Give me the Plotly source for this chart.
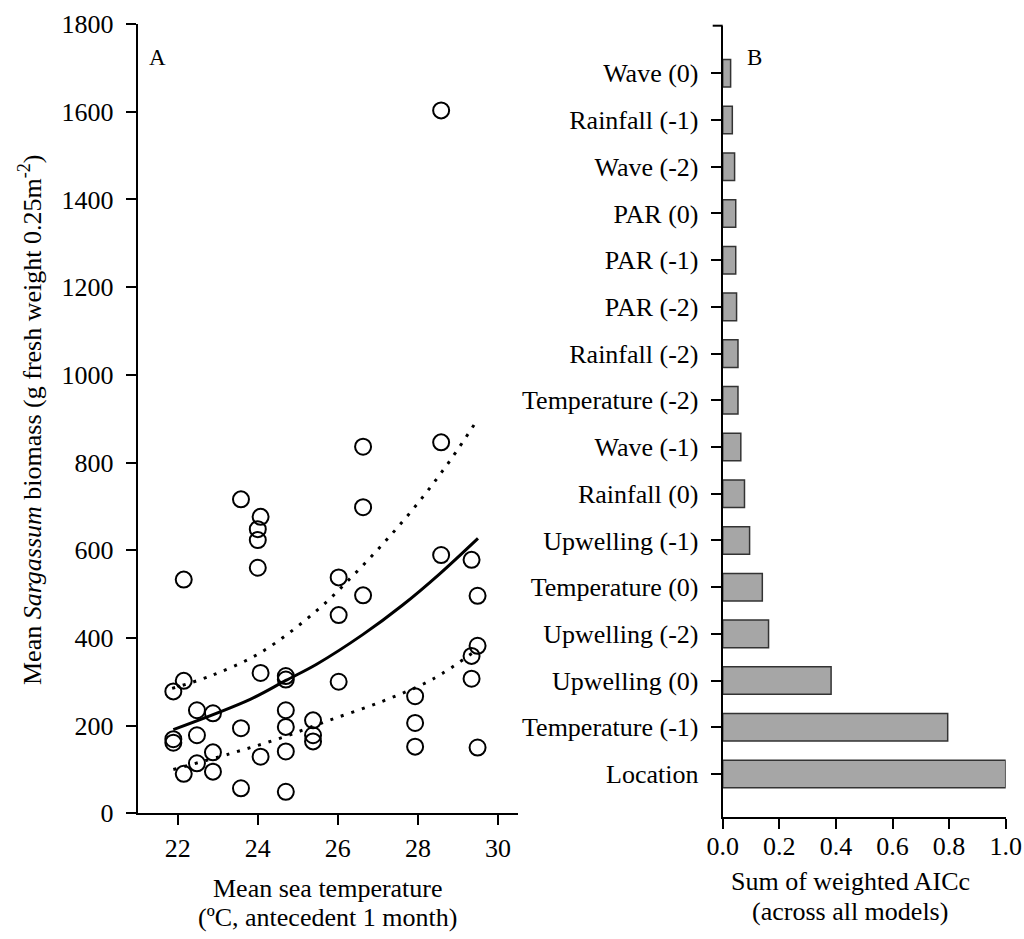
import plotly.graph_objects as go

# ---------------- Panel A data ----------------
temp = [26.63, 28.58, 23.58, 24.07, 24.00, 24.00, 24.00, 26.63, 22.15, 28.58,
        29.34, 26.02, 26.63, 29.49, 26.02, 29.49, 29.34, 29.34, 26.02, 24.07,
        24.70, 24.70, 22.15, 21.89, 22.48, 22.88, 24.70, 25.38, 23.58, 24.70,
        27.93, 27.93, 25.38, 25.38, 21.89, 21.89, 22.48, 27.93, 29.49, 22.88,
        24.07, 24.70, 22.48, 22.15, 22.88, 23.58, 24.70, 28.58]
biomass = [836, 846, 716, 676, 648, 623, 560, 698, 533, 589,
           578, 538, 497, 496, 452, 382, 359, 307, 300, 320,
           313, 305, 302, 278, 235, 228, 235, 212, 194, 197,
           267, 206, 178, 164, 169, 161, 178, 152, 150, 139,
           129, 141, 114, 90, 95, 57, 49, 1603]

fit_x = [21.89, 23.81, 24.70, 25.47, 26.63, 27.62, 28.53, 29.50]
fit_y = [191, 260, 303, 340, 408, 475, 545, 627]

upper_x = [21.86, 22.81, 24.06, 25.47, 26.42, 27.29, 28.12, 28.83, 29.49]
upper_y = [285, 313, 366, 462, 546, 631, 721, 808, 898]

lower_x = [21.89, 23.31, 24.55, 25.72, 27.13, 28.37, 29.49]
lower_y = [100, 136, 171, 210, 256, 306, 374]

# ---------------- Panel B data ----------------
predictors = ["Location", "Temperature (-1)", "Upwelling (0)", "Upwelling (-2)",
              "Temperature (0)", "Upwelling (-1)", "Rainfall (0)", "Wave (-1)",
              "Temperature (-2)", "Rainfall (-2)", "PAR (-2)", "PAR (-1)",
              "PAR (0)", "Wave (-2)", "Rainfall (-1)", "Wave (0)"]
weights = [1.0, 0.795, 0.383, 0.162, 0.140, 0.095, 0.077, 0.064,
           0.054, 0.054, 0.049, 0.046, 0.046, 0.042, 0.034, 0.028]

x_ticks_a = [22, 24, 26, 28, 30]
x_ticks_b = [0.0, 0.2, 0.4, 0.6, 0.8, 1.0]

W, H = 1024, 939
FONT = "Liberation Serif, Times New Roman, serif"

def px_x(p):
    return p / W

def px_y(p):
    return 1 - p / H

fig = go.Figure()

dot_line = dict(color="black", width=3, dash="3px,8px", shape="spline")
fig.add_trace(go.Scatter(x=upper_x, y=upper_y, mode="lines", line=dot_line,
                         xaxis="x", yaxis="y", showlegend=False, hoverinfo="skip"))
fig.add_trace(go.Scatter(x=lower_x, y=lower_y, mode="lines", line=dot_line,
                         xaxis="x", yaxis="y", showlegend=False, hoverinfo="skip"))
fig.add_trace(go.Scatter(x=fit_x, y=fit_y, mode="lines",
                         line=dict(color="black", width=3, shape="spline"),
                         xaxis="x", yaxis="y", showlegend=False))
fig.add_trace(go.Scatter(
    x=temp, y=biomass, mode="markers",
    marker=dict(symbol="circle-open", size=16, color="black", line=dict(width=2, color="black")),
    xaxis="x", yaxis="y", showlegend=False))

fig.add_trace(go.Bar(
    x=weights, y=predictors, orientation="h", width=0.59,
    marker=dict(color="#a6a6a6", line=dict(color="#333333", width=1.5)),
    xaxis="x2", yaxis="y2", showlegend=False))

axis_common = dict(showline=True, linecolor="black", linewidth=2, ticks="outside",
                   ticklen=10, tickwidth=2, tickcolor="black", showgrid=False, zeroline=False,
                   automargin=False,
                   tickfont=dict(family=FONT, size=26, color="black"))

fig.update_layout(
    template="none",
    width=W, height=H,
    margin=dict(l=0, r=0, t=0, b=0, pad=0),
    plot_bgcolor="white", paper_bgcolor="white",
    font=dict(family=FONT, size=26, color="black"),
    xaxis=dict(domain=[px_x(137.7), px_x(518)], range=[21, 30.5], tickvals=x_ticks_a,
               anchor="y", **axis_common),
    yaxis=dict(domain=[px_y(813.3), px_y(24)], range=[0, 1800], dtick=200,
               anchor="x", ticklabelstandoff=7, **axis_common),
    xaxis2=dict(domain=[px_x(722.7), px_x(1005.7)], range=[0, 1.0], tickvals=x_ticks_b,
                tickformat=".1f", anchor="y2", ticklabelstandoff=-5, **axis_common),
    yaxis2=dict(domain=[px_y(816.7), px_y(25.7)], range=[-0.914, 16.02], type="category",
                categoryorder="array", categoryarray=predictors, anchor="x2",
                ticklabelstandoff=7, **axis_common),
)

fig.add_shape(type="line", xref="x2 domain", yref="y2 domain", x0=-10/283, x1=0, y0=1, y1=1,
              line=dict(color="black", width=2))

ann = [
    dict(text="A", x=px_x(157), y=px_y(57), size=23),
    dict(text="B", x=px_x(754), y=px_y(57), size=23),
    dict(text="Mean sea temperature", x=px_x(327.5), y=px_y(888), size=26),
    dict(text="(ºC, antecedent 1 month)", x=px_x(327.5), y=px_y(917), size=26),
    dict(text="Sum of weighted AICc", x=px_x(850), y=px_y(881), size=26),
    dict(text="(across all models)", x=px_x(850), y=px_y(911), size=26),
]
for a in ann:
    fig.add_annotation(text=a["text"], x=a["x"], y=a["y"], xref="paper", yref="paper",
                       xanchor="center", yanchor="middle", showarrow=False,
                       font=dict(family=FONT, size=a["size"], color="black"))

fig.add_annotation(text="Mean <i>Sargassum</i> biomass (g fresh weight 0.25m<sup>-2</sup>)",
                   x=px_x(30), y=px_y(420), xref="paper", yref="paper", textangle=-90,
                   xanchor="center", yanchor="middle", showarrow=False,
                   font=dict(family=FONT, size=26, color="black"))

# remove the default 8px page margin so the figure fills the window exactly
fig.write_html("out.html", config={"displayModeBar": False},
               post_script="document.body.style.margin='0px';")
